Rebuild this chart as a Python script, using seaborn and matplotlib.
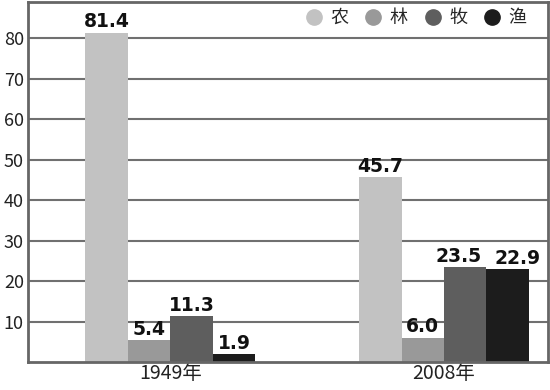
import matplotlib
matplotlib.use("Agg")
import matplotlib.pyplot as plt
from matplotlib.lines import Line2D
import seaborn as sns
import pandas as pd

years = ['1949年', '2008年']
sectors = ['农', '林', '牧', '渔']
values_1949 = [81.4, 5.4, 11.3, 1.9]
values_2008 = [45.7, 6.0, 23.5, 22.9]
colors = ['#c2c2c2', '#999999', '#5e5e5e', '#1c1c1c']
yticks = [10, 20, 30, 40, 50, 60, 70, 80]

rows = []
for y, vals in zip(years, [values_1949, values_2008]):
    for s, v in zip(sectors, vals):
        rows.append({'year': y, 'sector': s, 'value': v})
df = pd.DataFrame(rows)

sns.set_style('white')
plt.rcParams['font.family'] = ['Noto Sans CJK SC', 'DejaVu Sans']

fig = plt.figure(figsize=(5.5, 3.9), dpi=100)
ax = fig.add_axes([28/550, 28/390, 520/550, 360/390])

sns.barplot(data=df, x='year', y='value', hue='sector', palette=colors,
            width=0.62, saturation=1, ax=ax, legend=False, linewidth=0)

label_sets = []
for cont in ax.containers:
    anns = ax.bar_label(cont, fmt='%.1f', fontsize=13.5, fontweight='heavy',
                        family=['DejaVu Sans'], padding=1, color='#111111')
    label_sets.append(anns)
# nudge the two touching labels of 2008 apart, as in the reference
label_sets[2][1].xyann = (-5, 1)
label_sets[3][1].xyann = (7, 1)

ax.set_ylim(0, 89)
ax.set_xlim(-0.52, 1.38)
ax.set_yticks(yticks)
ax.set_yticklabels([str(t) for t in yticks], fontsize=13, color='#222222')
ax.tick_params(axis='y', length=0, pad=3)
ax.tick_params(axis='x', length=0, pad=1, labelsize=14, labelcolor='#222222')
ax.set_xlabel('')
ax.set_ylabel('')
ax.yaxis.grid(True, color='#707070', linewidth=1.5)
ax.set_axisbelow(True)
for sp in ax.spines.values():
    sp.set_visible(True)
    sp.set_color('#666666')
    sp.set_linewidth(2)

handles = [Line2D([0], [0], marker='o', linestyle='', markersize=11,
                  markerfacecolor=c, markeredgecolor=c) for c in colors]
ax.legend(handles, sectors, loc='upper right', ncol=4, frameon=False,
          fontsize=13, handlelength=1.0, handletextpad=0.4, columnspacing=0.9,
          bbox_to_anchor=(0.99, 1.025))

fig.savefig('out.png', dpi=100)
